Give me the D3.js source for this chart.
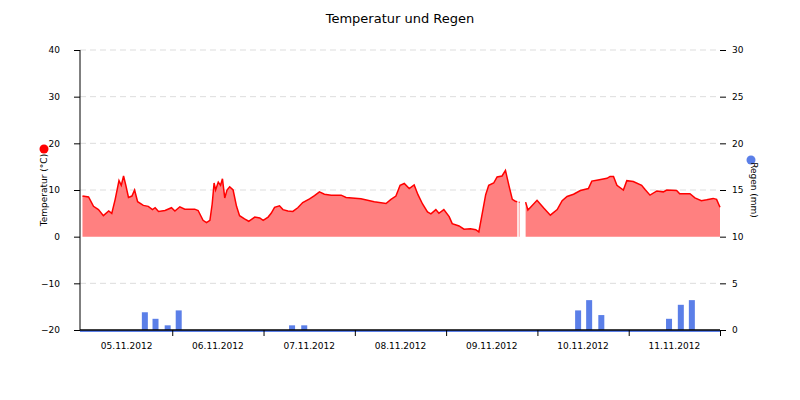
<!DOCTYPE html>
<html><head><meta charset="utf-8">
<script src="https://cdn.jsdelivr.net/npm/d3@7"></script>
<style>body{margin:0;background:#fff}text{font-family:"DejaVu Sans",sans-serif}</style>
</head><body><svg id="c" width="800" height="400"></svg>
<script>
// hours after 05.11.2012 00:00 and temperature (°C); null = gap
const tempHours = [0.4,2.0,3.3,4.6,5.9,7.3,8.1,9.0,10.0,10.6,11.2,11.8,12.5,13.4,14.1,14.9,16.4,17.7,18.8,19.5,20.4,22.1,23.8,24.7,26.0,27.3,29.9,30.8,32.1,33.0,33.9,34.5,35.0,35.4,36.1,36.7,37.2,37.8,38.4,39.1,40.0,40.9,41.7,43.0,44.1,45.7,47.0,47.9,49.2,50.0,50.9,52.2,53.1,54.4,55.7,57.0,58.3,60.1,61.4,62.7,64.0,65.8,68.4,69.7,73.6,77.1,80.2,81.5,82.8,83.9,85.0,86.3,87.6,88.6,89.8,91.1,92.0,93.3,94.1,95.4,96.8,97.6,99.4,100.7,102.4,103.8,104.6,105.5,106.4,107.2,108.5,109.4,110.7,111.6,112.5,113.4,114.2,114.7,114.9,115.1,115.3,115.6,116.9,117.5,118.2,119.9,121.6,123.4,125.2,126.5,127.8,129.5,131.3,133.4,134.3,135.6,138.3,139.1,140.0,140.9,142.6,143.5,145.2,147.4,148.3,149.6,151.4,153.1,154.0,156.6,157.4,160.1,161.4,163.1,164.5,166.2,167.1,168.0];
const tempValues = [8.7,8.5,6.5,5.8,4.5,5.5,5.0,8.0,12.0,11.0,13.0,11.0,8.4,8.7,10.0,7.5,6.7,6.5,5.8,6.2,5.4,5.6,6.2,5.5,6.4,5.9,5.9,5.6,3.5,3.0,3.5,7.0,11.5,10.0,11.7,11.0,12.4,8.3,10.0,10.7,10.0,6.5,4.5,3.8,3.3,4.2,4.0,3.5,4.2,5.0,6.3,6.6,5.8,5.5,5.4,6.2,7.3,8.1,8.8,9.6,9.1,8.9,8.9,8.4,8.1,7.5,7.1,8.0,8.7,11.0,11.4,10.3,11.1,9.0,7.0,5.3,4.9,5.8,5.0,5.8,4.3,2.8,2.3,1.6,1.7,1.5,1.0,5.0,9.0,11.0,11.5,12.8,13.0,14.2,11.0,8.0,7.6,7.5,null,7.4,7.4,null,7.4,5.7,6.3,7.8,6.2,4.6,5.8,7.7,8.6,9.1,9.9,10.3,11.9,12.1,12.5,12.9,12.9,11.0,10.0,12.0,11.8,11.0,10.1,8.9,9.8,9.6,10.0,9.9,9.2,9.2,8.3,7.7,7.9,8.2,8.0,6.3];
const rainHours = [16.8,19.6,22.8,25.7,55.5,58.7,130.7,133.6,136.8,154.6,157.7,160.6];
const rainValues = [1.9,1.2,0.5,2.1,0.5,0.5,2.1,3.2,1.6,1.2,2.7,3.2];
const dayLabels = ["05.11.2012","06.11.2012","07.11.2012","08.11.2012","09.11.2012","10.11.2012","11.11.2012"];
const leftTicks = [-20,-10,0,10,20,30,40];
const rightTicks = [0,5,10,15,20,25,30];

const svg = d3.select("#c");
const L=80,R=720,T=50,B=330;
const t0 = new Date(2012,10,5,0,0);
const hr = h => new Date(t0.getTime()+h*3600e3);
const x = d3.scaleTime().domain([hr(-0.25),hr(168)]).range([L,R]);
const y = d3.scaleLinear().domain([-20,40]).range([B,T]);
const y2 = d3.scaleLinear().domain([0,30]).range([B,T]);

svg.append("text").attr("x",400).attr("y",23).attr("text-anchor","middle").attr("font-size",13).text("Temperatur und Regen");

// grid
svg.append("g").selectAll("line").data(leftTicks.filter(d=>d!==-20&&d!==0)).join("line")
 .attr("x1",L).attr("x2",R).attr("y1",d=>y(d)).attr("y2",d=>y(d))
 .attr("stroke","#ddd").attr("stroke-dasharray","6,4");

const pts = tempHours.map((h,i)=>({t:hr(h),v:tempValues[i]}));
svg.append("path").datum(pts)
 .attr("d",d3.area().defined(d=>d.v!==null).x(d=>x(d.t)).y0(y(0)).y1(d=>y(d.v)))
 .attr("fill","#ff8080");
svg.append("path").datum(pts)
 .attr("d",d3.line().defined(d=>d.v!==null).x(d=>x(d.t)).y(d=>y(d.v)))
 .attr("fill","none").attr("stroke","#f00").attr("stroke-width",1.5);

// rain
svg.append("line").attr("x1",L).attr("x2",R).attr("y1",y2(0)+1).attr("y2",y2(0)+1).attr("stroke","#5b7fe8").attr("stroke-width",2);
svg.append("g").selectAll("rect").data(rainHours.map((h,i)=>({t:hr(h),v:rainValues[i]}))).join("rect")
 .attr("x",d=>x(d.t)-3).attr("width",6).attr("y",d=>y2(d.v)).attr("height",d=>y2(0)-y2(d.v))
 .attr("fill","#5b7fe8");

// left axis
const ga = svg.append("g").attr("transform",`translate(${L},0)`)
 .call(d3.axisLeft(y).tickValues(leftTicks).tickSize(6).tickPadding(14));
ga.selectAll("text").attr("font-size",9).attr("font-family","DejaVu Sans");
ga.select(".domain").attr("d",`M0,${T}V${B}`);
// right axis
const gr = svg.append("g").attr("transform",`translate(${R},0)`)
 .call(d3.axisRight(y2).tickValues(rightTicks).tickSize(6).tickPadding(6));
gr.selectAll("text").attr("font-size",9).attr("font-family","DejaVu Sans");
gr.select(".domain").remove();
// bottom axis
const days = d3.range(1,8).map(d=>hr(d*24));
const gb = svg.append("g").attr("transform",`translate(0,${B})`)
 .call(d3.axisBottom(x).tickValues(days).tickSize(6).tickFormat(""));
gb.select(".domain").attr("d",`M${L},0H${R}`).attr("stroke-width",1.5);
svg.append("g").selectAll("text").data(dayLabels).join("text")
 .attr("x",(d,i)=>x(hr(i*24+12))).attr("y",349).attr("text-anchor","middle").attr("font-size",9).text(d=>d);

// axis titles + legend markers
svg.append("circle").attr("cx",44).attr("cy",149).attr("r",4.5).attr("fill","#f00");
svg.append("text").attr("transform","translate(47,190) rotate(-90)").attr("text-anchor","middle").attr("font-size",9).text("Temperatur (°C)");
svg.append("circle").attr("cx",751).attr("cy",160).attr("r",4.5).attr("fill","#5b7fe8");
svg.append("text").attr("transform","translate(751,190) rotate(90)").attr("text-anchor","middle").attr("font-size",9).text("Regen (mm)");
</script></body></html>
